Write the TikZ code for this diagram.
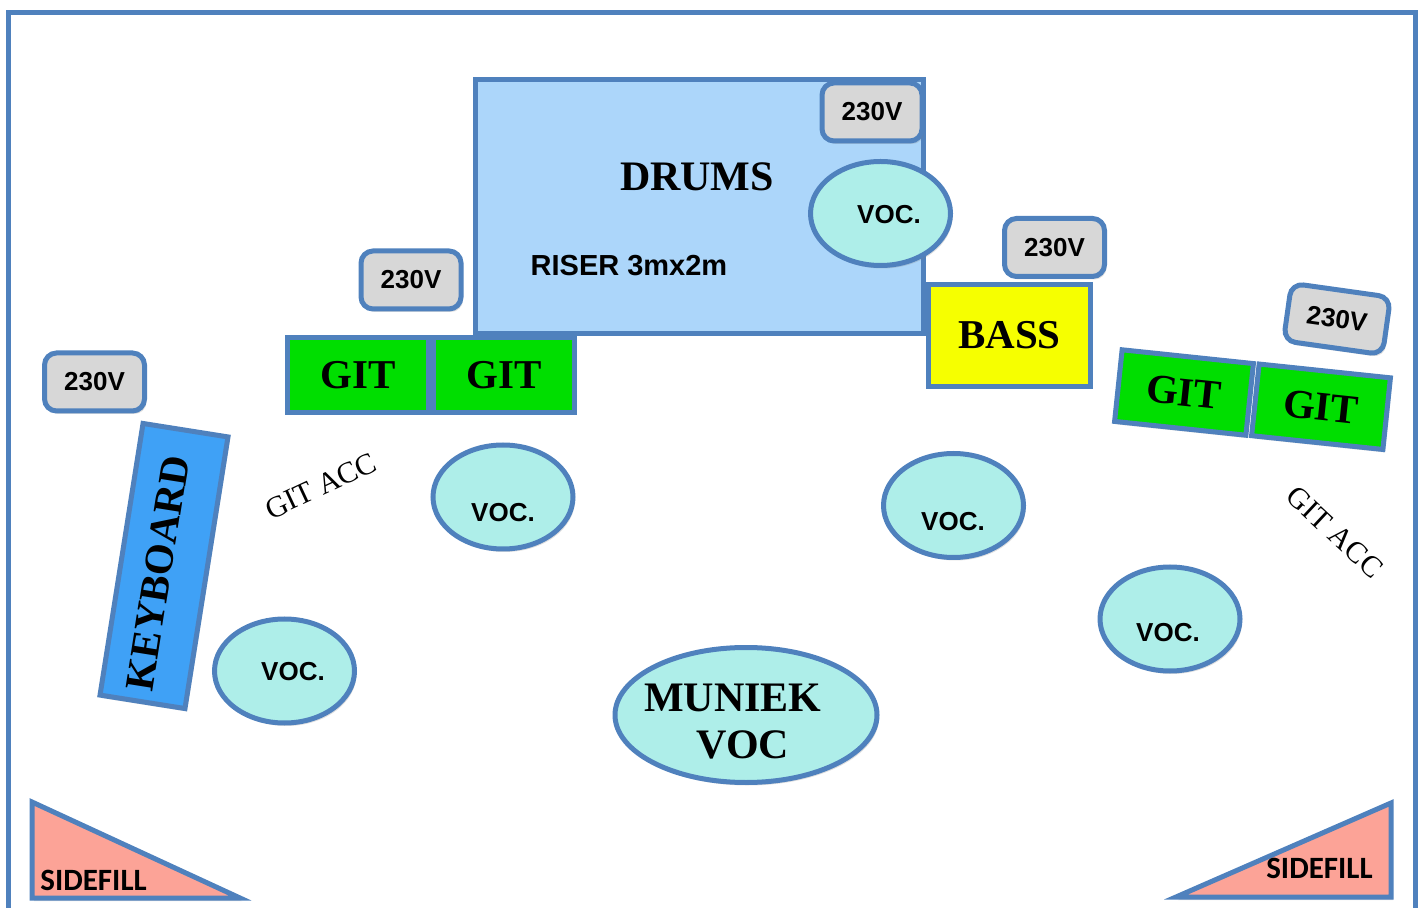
\documentclass[tikz,border=0pt]{standalone}
\usepackage{fontspec}
\setmainfont{Liberation Serif}
\setsansfont{Liberation Sans}
\newfontfamily\fillfont{Carlito}
\usetikzlibrary{shapes.geometric,shadows}
\definecolor{edge}{HTML}{4F81BD}
\definecolor{riser}{HTML}{ACD6FA}
\definecolor{plug}{HTML}{D7D7D7}
\definecolor{vocal}{HTML}{AEEEE9}
\definecolor{guitar}{HTML}{00DE00}
\definecolor{bassbox}{HTML}{F6FF00}
\definecolor{keys}{HTML}{3FA1F6}
\definecolor{sidefill}{HTML}{FCA397}
\begin{document}
\begin{tikzpicture}[x=.5pt, y=-.5pt,
    kit/.style={draw=edge, line width=2.5pt, inner sep=0pt, drop shadow={opacity=.25, shadow xshift=1pt, shadow yshift=-1.5pt}},
    instr/.style={kit, rectangle, font=\bfseries\fontsize{20.5}{24}\selectfont},
    git/.style={instr, fill=guitar, minimum width=70.5pt, minimum height=37.5pt},
    power/.style={kit, fill=plug, rounded corners=6pt, minimum width=50pt, minimum height=29pt, font=\sffamily\bfseries\fontsize{13}{15}\selectfont},
    voc/.style={kit, ellipse, fill=vocal, minimum width=70pt, minimum height=52pt},
    vocname/.style={font=\sffamily\bfseries\fontsize{13}{15}\selectfont},
    acc/.style={font=\fontsize{15}{17}\selectfont},
    fillwedge/.style={draw=edge, fill=sidefill, line width=2.5pt, drop shadow={opacity=.25, shadow xshift=1pt, shadow yshift=-1.5pt}},
    fillname/.style={inner sep=0pt, font=\fillfont\bfseries\fontsize{15.5}{18}\selectfont}]
  \useasboundingbox (0,0) rectangle (1424,908);
  % stage outline
  \draw [edge, line width=2.5pt] (8,960) -- (8,13) -- (1415,13) -- (1415,960);
  % drums
  \node [kit, fill=riser, minimum width=224pt, minimum height=127pt] (riser) at (699.5,206.5) {};
  \node [font=\bfseries\fontsize{21}{24}\selectfont] (drums) at (697,177) {DRUMS};
  \node [font=\sffamily\bfseries\fontsize{14.5}{17}\selectfont] (risersize) at (629,266) {RISER 3mx2m};
  \node [power] (pdrums) at (872,112) {230V};
  \node [voc] (vdrums) at (880.5,213.5) {};
  \node [vocname] (vdrumst) at (889,215) {VOC.};
  % left side
  \node [power] (pgit) at (411,280) {230V};
  \node [power] (pkeys) at (94.5,382) {230V};
  \node [git] (git1) at (358,375) {GIT};
  \node [git] (git2) at (504,375) {GIT};
  \node [instr, fill=keys, minimum width=137.5pt, minimum height=43pt, rotate=81] (keyboard) at (164,566) {};
  \node [font=\bfseries\fontsize{20.5}{24}\selectfont, rotate=81] (keyboardt) at (158,573) {KEYBOARD};
  \node [acc, rotate=25] (accleft) at (321,486) {GIT ACC};
  \node [voc] (vgit) at (503,497) {};
  \node [vocname] (vgitt) at (503,513) {VOC.};
  \node [voc] (vkeys) at (284.5,671) {};
  \node [vocname] (vkeyst) at (293,672) {VOC.};
  % right side
  \node [power] (pbass) at (1054.5,247.5) {230V};
  \node [instr, fill=bassbox, minimum width=81pt, minimum height=51pt] (bass) at (1009.5,335.5) {BASS};
  \node [power, rotate=-8] (pright) at (1337,319) {230V};
  \node [git, minimum width=66pt, minimum height=36pt, rotate=-6] (git3) at (1184,392.5) {GIT};
  \node [git, minimum width=66pt, minimum height=36pt, rotate=-6] (git4) at (1321,406.75) {GIT};
  \node [acc, rotate=-43] (accright) at (1335,532) {GIT ACC};
  \node [voc] (vbass) at (953.5,505.5) {};
  \node [vocname] (vbasst) at (953,522) {VOC.};
  \node [voc] (vright) at (1170,619) {};
  \node [vocname] (vrightt) at (1168,633) {VOC.};
  % front
  \node [voc, minimum width=131pt, minimum height=67.5pt] (muniek) at (746,715) {};
  \node [align=center, font=\bfseries\fontsize{21}{23.5}\selectfont] (muniekt) at (743,722) {MUNIEK\hspace*{10pt}\\VOC};
  \draw [fillwedge] (32,802) -- (32,898) -- (240,898) -- cycle;
  \node [fillname, anchor=base west] (fillleft) at (40,890) {SIDEFILL};
  \draw [fillwedge] (1391,803) -- (1391,897) -- (1176,897) -- cycle;
  \node [fillname, anchor=base east] (fillright) at (1373,878) {SIDEFILL};
\end{tikzpicture}
\end{document}
